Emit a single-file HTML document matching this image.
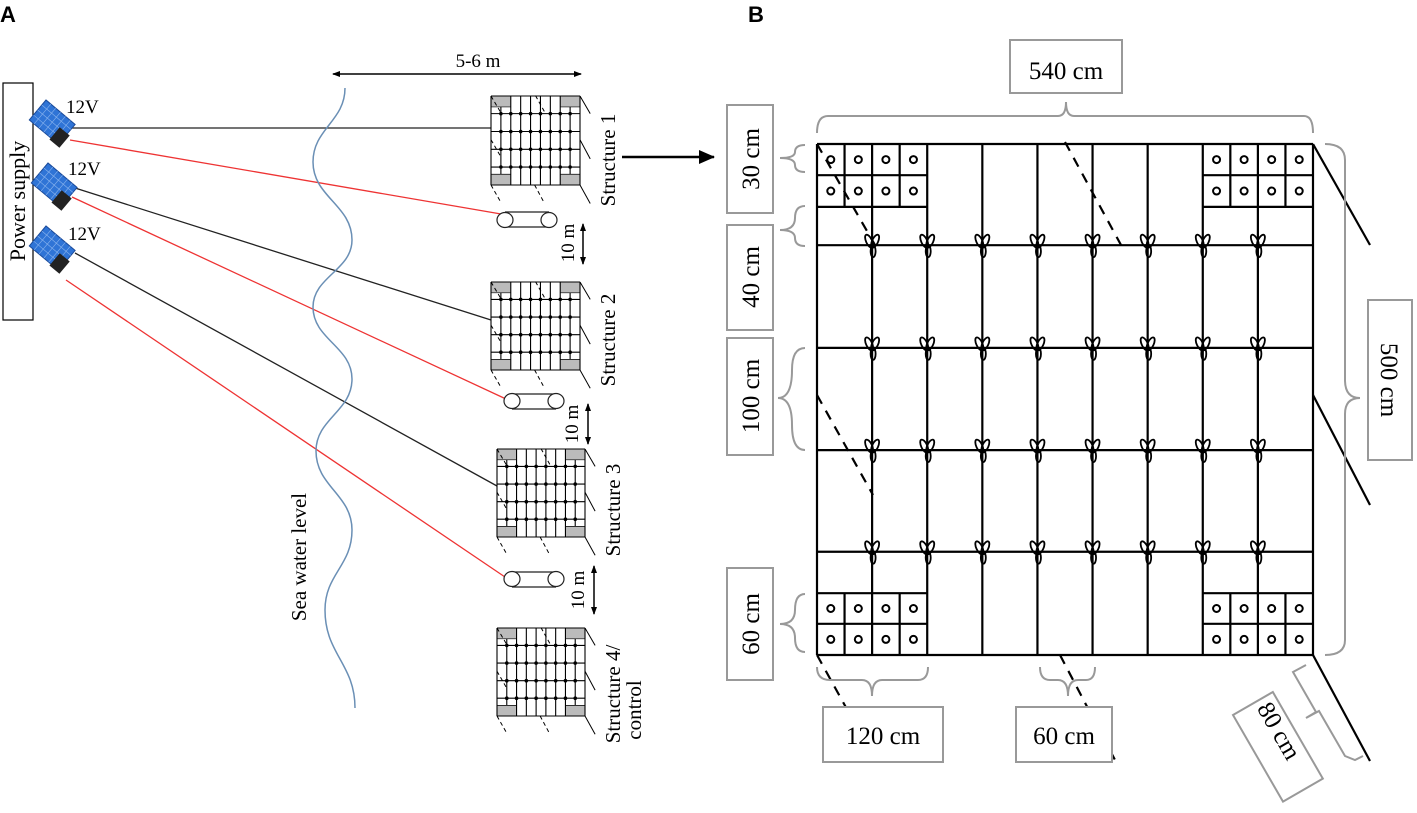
<!DOCTYPE html>
<html><head><meta charset="utf-8"><style>
body{margin:0;background:#fff;width:1417px;height:808px;overflow:hidden}
svg text{font-family:"Liberation Serif",serif;fill:#000}
</style></head><body>
<svg id="s" width="1417" height="808" viewBox="0 0 1417 808" xmlns="http://www.w3.org/2000/svg">
<defs>
<marker id="ah" markerWidth="8" markerHeight="8" refX="7" refY="4" orient="auto-start-reverse" markerUnits="userSpaceOnUse"><path d="M0,1 L8,4 L0,7 Z" fill="#000"/></marker>
<marker id="ah2" markerWidth="16" markerHeight="14" refX="15" refY="7" orient="auto" markerUnits="userSpaceOnUse"><path d="M0,0 L16,7 L0,14 Z" fill="#000"/></marker>
</defs>
<text x="0" y="22" style="font-family:'Liberation Sans',sans-serif;font-weight:bold;font-size:22px">A</text>
<text x="748" y="22" style="font-family:'Liberation Sans',sans-serif;font-weight:bold;font-size:22px">B</text>

<rect x="3" y="83" width="30" height="237" fill="#fff" stroke="#000" stroke-width="1.2"/>
<text transform="translate(25,201) rotate(-90)" text-anchor="middle" font-size="22">Power supply</text>

<g stroke-width="1.3" fill="none">
<line x1="72" y1="128" x2="491" y2="128" stroke="#222"/>
<line x1="70" y1="140" x2="501" y2="214" stroke="#e33"/>
<line x1="75" y1="188" x2="491" y2="320" stroke="#222"/>
<line x1="72" y1="197" x2="506" y2="399" stroke="#e33"/>
<line x1="75" y1="253" x2="497" y2="486" stroke="#222"/>
<line x1="66" y1="280" x2="505" y2="577" stroke="#e33"/>
</g>

<g id="panels"></g>

<text x="66" y="113" font-size="19">12V</text>
<text x="68" y="175" font-size="19">12V</text>
<text x="68" y="240" font-size="19">12V</text>

<path id="wave" fill="none" stroke="#6a8fb5" stroke-width="1.5"/>
<text transform="translate(306,557) rotate(-90)" text-anchor="middle" font-size="21">Sea water level</text>

<line x1="333" y1="74" x2="581" y2="74" stroke="#000" stroke-width="1.5" marker-start="url(#ah)" marker-end="url(#ah)"/>
<text x="478" y="67" text-anchor="middle" font-size="19">5-6 m</text>

<g fill="#fff" stroke="#222" stroke-width="1.2">
<line x1="505" y1="212" x2="549" y2="212"/><line x1="505" y1="227" x2="549" y2="227"/>
<ellipse cx="505" cy="220" rx="8" ry="7.5"/><ellipse cx="549" cy="220" rx="8" ry="7.5"/>
<line x1="512" y1="394" x2="556" y2="394"/><line x1="512" y1="409" x2="556" y2="409"/>
<ellipse cx="512" cy="401" rx="8" ry="7.5"/><ellipse cx="556" cy="401" rx="8" ry="7.5"/>
<line x1="512" y1="572" x2="556" y2="572"/><line x1="512" y1="587" x2="556" y2="587"/>
<ellipse cx="512" cy="579" rx="8" ry="7.5"/><ellipse cx="556" cy="579" rx="8" ry="7.5"/>
</g>
<g stroke="#000" stroke-width="1.5">
<line x1="583" y1="224" x2="583" y2="264" marker-start="url(#ah)" marker-end="url(#ah)"/>
<line x1="588" y1="404" x2="588" y2="444" marker-start="url(#ah)" marker-end="url(#ah)"/>
<line x1="594" y1="566" x2="594" y2="614" marker-start="url(#ah)" marker-end="url(#ah)"/>
</g>
<text transform="translate(574,243) rotate(-90)" text-anchor="middle" font-size="19">10 m</text>
<text transform="translate(578,424) rotate(-90)" text-anchor="middle" font-size="19">10 m</text>
<text transform="translate(584,590) rotate(-90)" text-anchor="middle" font-size="19">10 m</text>

<text transform="translate(615,160) rotate(-90)" text-anchor="middle" font-size="21">Structure 1</text>
<text transform="translate(615,340) rotate(-90)" text-anchor="middle" font-size="21">Structure 2</text>
<text transform="translate(620,510) rotate(-90)" text-anchor="middle" font-size="21">Structure 3</text>
<text transform="translate(620,694) rotate(-90)" text-anchor="middle" font-size="21">Structure 4/</text>
<text transform="translate(641,710) rotate(-90)" text-anchor="middle" font-size="21">control</text>

<line x1="622" y1="157" x2="714" y2="157" stroke="#000" stroke-width="2.5" marker-end="url(#ah2)"/>

<g id="grids"></g>

<g fill="#fff" stroke="#999" stroke-width="2">
<rect x="1010" y="40" width="112" height="53"/>
<rect x="727" y="105" width="46" height="108"/>
<rect x="727" y="225" width="46" height="105"/>
<rect x="727" y="338" width="46" height="117"/>
<rect x="727" y="568" width="46" height="112"/>
<rect x="823" y="707" width="120" height="55"/>
<rect x="1016" y="707" width="96" height="55"/>
<rect x="1368" y="300" width="44" height="160"/>
<rect x="0" y="0" width="46" height="100" transform="translate(1233,715) rotate(-30)"/>
</g>
<g fill="none" stroke="#999" stroke-width="2">
<path d="M817,133 Q817,116 828,116 L1058,116 Q1066,116 1066,102 Q1066,116 1074,116 L1304,116 Q1313,116 1313,133"/>
<path d="M805,145 Q795,145 795,152 Q795,158 780,158 Q795,158 795,165 Q795,172 805,172"/>
<path d="M805,206 Q795,206 795,218 Q795,230 780,230 Q795,230 795,238 Q795,246 805,246"/>
<path d="M805,348 Q792,348 792,370 Q792,398 778,398 Q792,398 792,425 Q792,450 805,450"/>
<path d="M805,594 Q795,594 795,610 Q795,624 780,624 Q795,624 795,638 Q795,652 805,652"/>
<path d="M817,667 Q817,680 830,680 L862,680 Q872,680 872,696 Q872,680 882,680 L918,680 Q928,680 928,667"/>
<path d="M1040,667 Q1040,680 1050,680 L1058,680 Q1068,680 1068,696 Q1068,680 1078,680 L1086,680 Q1095,680 1095,667"/>
<path d="M1325,144 Q1345,144 1345,160 L1345,380 Q1345,398 1360,398 Q1345,398 1345,414 L1345,640 Q1345,655 1325,655"/>
<path d="M1306,665 L1293,672 L1316,712 L1306,718 L1319,711 L1345,756 L1355,760 L1363,756"/>
</g>
<text x="1066" y="79" text-anchor="middle" font-size="25">540 cm</text>
<text transform="translate(759,159) rotate(-90)" text-anchor="middle" font-size="25">30 cm</text>
<text transform="translate(759,277) rotate(-90)" text-anchor="middle" font-size="25">40 cm</text>
<text transform="translate(759,396) rotate(-90)" text-anchor="middle" font-size="25">100 cm</text>
<text transform="translate(759,624) rotate(-90)" text-anchor="middle" font-size="25">60 cm</text>
<text x="883" y="744" text-anchor="middle" font-size="25">120 cm</text>
<text x="1064" y="744" text-anchor="middle" font-size="25">60 cm</text>
<text transform="translate(1381,380) rotate(90)" text-anchor="middle" font-size="25">500 cm</text>
<text transform="translate(1272,735) rotate(60)" text-anchor="middle" font-size="25">80 cm</text>
</svg>
<script>
var NS="http://www.w3.org/2000/svg";
function el(p,t,a){var e=document.createElementNS(NS,t);for(var k in a)e.setAttribute(k,a[k]);p.appendChild(e);return e;}
var pts=[[345,88],[313,162],[352,240],[313,307],[352,379],[316,451],[352,530],[325,610],[355,708]];
var d="M"+pts[0][0]+","+pts[0][1];
for(var i=1;i<pts.length;i++){var a=pts[i-1],b=pts[i],k=(b[1]-a[1])*0.45;
 d+=" C"+a[0]+","+(a[1]+k)+" "+b[0]+","+(b[1]-k)+" "+b[0]+","+b[1];}
document.getElementById("wave").setAttribute("d",d);
var P=document.getElementById("panels");
[[46,100],[48,163],[46,226]].forEach(function(p){
 var g=el(P,"g",{transform:"translate("+p[0]+","+p[1]+") rotate(40)"});
 el(g,"rect",{x:0,y:0,width:38,height:26,fill:"#2f74d6",stroke:"#1a4a9a","stroke-width":1});
 for(var i=1;i<6;i++)el(g,"line",{x1:i*38/6,y1:0,x2:i*38/6,y2:26,stroke:"#8ab4ee","stroke-width":0.6});
 for(var j=1;j<4;j++)el(g,"line",{x1:0,y1:j*26/4,x2:38,y2:j*26/4,stroke:"#8ab4ee","stroke-width":0.6});
 el(g,"rect",{x:28,y:12,width:13,height:16,fill:"#222"});
});
var G=document.getElementById("grids");
function grid(x0,y0,w,h,big){
 var sw=big?2.2:1.1, c=w/9, g=el(G,"g",{stroke:"#000","stroke-width":sw,fill:"none"});
 function L(a,b,cc,dd,extra){var o={x1:a,y1:b,x2:cc,y2:dd};for(var k in extra)o[k]=extra[k];el(g,"line",o);}
 var R=[0,0.198,0.399,0.599,0.798,1].map(function(f){return y0+f*h});
 var s1=y0+0.061*h,s2=y0+0.123*h,b1=y0+0.879*h,b2=y0+0.939*h;
 if(!big){
  [[x0,y0],[x0+7*c,y0],[x0,b1],[x0+7*c,b1]].forEach(function(p){el(g,"rect",{x:p[0],y:p[1],width:2*c,height:(p[1]==y0?s2-y0:y0+h-b1),fill:"#bbb",stroke:"none"});});
 }
 R.forEach(function(y){L(x0,y,x0+w,y);});
 if(big)[s1,s2,b1,b2].forEach(function(y){L(x0,y,x0+2*c,y);L(x0+7*c,y,x0+w,y);});
 else [s2,b1].forEach(function(y){L(x0,y,x0+2*c,y,{"stroke-width":0.7});L(x0+7*c,y,x0+w,y,{"stroke-width":0.7});});
 for(var k=0;k<=9;k++){var x=x0+k*c;
  if(k==1||k==8)L(x,s2,x,b1);else L(x,y0,x,y0+h);}
 if(big)[0.5,1,1.5,7.5,8,8.5].forEach(function(f){var x=x0+f*c;L(x,y0,x,s2);L(x,b1,x,y0+h);});
 if(big){[0.25,0.75,1.25,1.75,7.25,7.75,8.25,8.75].forEach(function(f){[(y0+s1)/2,(s1+s2)/2,(b1+b2)/2,(b2+y0+h)/2].forEach(function(y){el(g,"circle",{cx:x0+f*c,cy:y,r:3.5,"stroke-width":2});});});}
 for(var r=1;r<=4;r++)for(var k=1;k<=8;k++){var x=x0+k*c,y=R[r];
  if(big){el(g,"ellipse",{cx:x-3,cy:y-4,rx:3,ry:7,transform:"rotate(-25 "+(x-3)+" "+(y-4)+")","stroke-width":1.8});
   el(g,"ellipse",{cx:x+3,cy:y-4,rx:3,ry:7,transform:"rotate(25 "+(x+3)+" "+(y-4)+")","stroke-width":1.8});
   el(g,"ellipse",{cx:x+1,cy:y+6,rx:2.5,ry:6,"stroke-width":1.8});}
  else el(g,"circle",{cx:x,cy:y,r:1.8,fill:"#000",stroke:"none"});}
 var sx=w/496,sy=h/511,da=big?"10,8":"4,3",dw=big?2.2:1;
 function D(a,b,cc,dd){L(x0+a*sx,y0+b*sy,x0+cc*sx,y0+dd*sy,{"stroke-dasharray":da,"stroke-width":dw});}
 D(0,0,58,101);D(248,-2,304,101);D(0,251,56,351);D(0,511,58,616);D(243,511,298,616);
 var sl=big?2.2:1;
 L(x0+w,y0,x0+w+57*sx,y0+101*sy,{"stroke-width":sl});
 L(x0+w,y0+251*sy,x0+w+57*sx,y0+361*sy,{"stroke-width":sl});
 L(x0+w,y0+h,x0+w+57*sx,y0+h+106*sy,{"stroke-width":sl});
}
grid(817,144,496,511,true);
grid(491,96,89,89,false);
grid(491,282,89,88,false);
grid(497,449,88,88,false);
grid(497,628,88,88,false);
</script>
</body></html>
